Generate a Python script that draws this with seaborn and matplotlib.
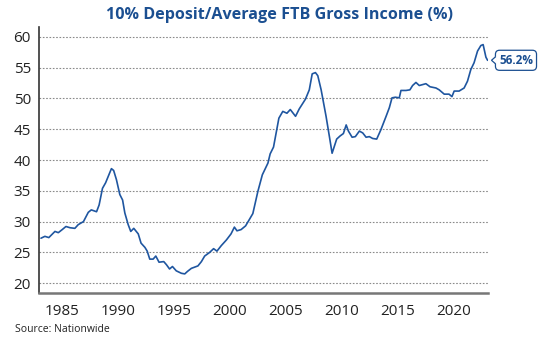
import matplotlib
matplotlib.use("Agg")
import matplotlib.pyplot as plt
import matplotlib.transforms as mtransforms
from matplotlib.patches import Polygon
import seaborn as sns
import pandas as pd

# Quarterly-ish readings (decimal year, %)
years = [1983.1, 1983.45, 1983.8, 1984.35, 1984.65, 1985.0, 1985.33, 1985.7, 1986.13, 1986.43,
         1986.9, 1987.33, 1987.6, 1988.07, 1988.3, 1988.6, 1988.88, 1989.4, 1989.6, 1989.85,
         1990.15, 1990.4, 1990.6, 1990.9, 1991.13, 1991.4, 1991.8, 1992.05, 1992.4, 1992.6,
         1992.83, 1993.13, 1993.37, 1993.66, 1994.08, 1994.32, 1994.6, 1994.86, 1995.2, 1995.66,
         1995.96, 1996.2, 1996.55, 1997.14, 1997.45, 1997.74, 1998.19, 1998.54, 1998.84, 1999.23,
         1999.68, 2000.1, 2000.4, 2000.63, 2001.0, 2001.4, 2001.76, 2002.05, 2002.5, 2002.9,
         2003.4, 2003.6, 2003.9, 2004.38, 2004.73, 2005.1, 2005.4, 2005.87, 2006.2, 2006.76,
         2007.1, 2007.36, 2007.65, 2007.86, 2008.16, 2008.6, 2008.9, 2009.14, 2009.55, 2009.85,
         2010.15, 2010.4, 2010.6, 2010.93, 2011.22, 2011.58, 2011.88, 2012.18, 2012.47, 2012.77,
         2013.13, 2013.5, 2013.97, 2014.26, 2014.5, 2014.8, 2015.15, 2015.3, 2015.75, 2016.1,
         2016.34, 2016.64, 2016.94, 2017.53, 2017.9, 2018.43, 2018.72, 2019.17, 2019.6, 2019.86,
         2020.06, 2020.5, 2020.95, 2021.25, 2021.55, 2021.84, 2022.15, 2022.45, 2022.65, 2022.9,
         2023.05]
values = [27.3, 27.6, 27.4, 28.4, 28.2, 28.7, 29.2, 29.0, 28.9, 29.5,
          30.0, 31.5, 31.9, 31.6, 32.7, 35.4, 36.3, 38.6, 38.3, 36.8,
          34.4, 33.5, 31.4, 29.5, 28.4, 28.9, 28.0, 26.5, 25.8, 25.2,
          23.9, 23.9, 24.4, 23.4, 23.5, 23.0, 22.3, 22.7, 22.0, 21.6,
          21.5, 21.9, 22.4, 22.8, 23.5, 24.4, 25.0, 25.6, 25.2, 26.1,
          27.0, 28.0, 29.1, 28.5, 28.7, 29.3, 30.4, 31.3, 34.9, 37.6,
          39.5, 41.0, 42.1, 46.8, 47.9, 47.6, 48.2, 47.1, 48.3, 49.9,
          51.4, 54.0, 54.2, 53.7, 51.4, 47.1, 43.8, 41.1, 43.4, 43.9,
          44.3, 45.7, 44.7, 43.7, 43.8, 44.7, 44.4, 43.7, 43.8, 43.5,
          43.4, 44.9, 47.1, 48.5, 50.1, 50.2, 50.1, 51.3, 51.3, 51.4,
          52.1, 52.6, 52.1, 52.4, 51.9, 51.7, 51.4, 50.7, 50.7, 50.3,
          51.2, 51.2, 51.7, 52.8, 54.7, 55.8, 57.7, 58.6, 58.75, 56.7,
          56.2]

x_ticks = [1985, 1990, 1995, 2000, 2005, 2010, 2015, 2020]
y_ticks = [20, 25, 30, 35, 40, 45, 50, 55, 60]
title = "10% Deposit/Average FTB Gross Income (%)"
source = "Source: Nationwide"

BLUE = "#1f56a0"
TITLE_BLUE = "#1b4f91"

sns.set_theme(style="white")
plt.rcParams['font.family'] = ['Open Sans', 'DejaVu Sans']

df = pd.DataFrame({"year": years, "value": values})

fig = plt.figure(figsize=(5.43, 3.49), dpi=100)
ax = fig.add_axes([0.0724, 0.1605, 0.8266, 0.762])

sns.lineplot(data=df, x="year", y="value", ax=ax, color=BLUE, linewidth=1.2)

ax.set_xlim(1982.95, 2023.1)
ax.set_ylim(18.4, 61.6)
ax.set_xticks(x_ticks)
ax.set_yticks(y_ticks)
ax.set_xlabel("")
ax.set_ylabel("")
ax.grid(axis="y", linestyle=(0, (1.5, 1.5)), color="#8a8a8a", linewidth=0.8)
ax.grid(axis="x", visible=False)

for side in ["top", "right"]:
    ax.spines[side].set_visible(False)
ax.spines["left"].set_color("#333333")
ax.spines["left"].set_linewidth(1.2)
ax.spines["bottom"].set_color("#777777")
ax.spines["bottom"].set_linewidth(1.8)

ax.tick_params(axis="both", which="major", direction="out", length=4, width=1,
               colors="#333333", labelsize=11, labelcolor="#222222", pad=2)
ax.tick_params(axis="x", pad=4, color="#555555")

fig.text(0.515, 0.956, title, ha="center", va="center", fontsize=11.6,
         fontweight="bold", color=TITLE_BLUE)
fig.text(0.028, 0.055, source, ha="left", va="center", fontsize=7.5, color="#222222")

last_x, last_y = years[-1], values[-1]
ax.annotate(f"{last_y:.1f}%", xy=(last_x, last_y), xytext=(8.2, 0), textcoords="offset points",
            ha="left", va="center", fontsize=8.5, fontweight="bold", color=TITLE_BLUE,
            bbox=dict(boxstyle="round,pad=0.3,rounding_size=0.35", fc="white", ec=TITLE_BLUE, lw=0.9),
            annotation_clip=False, zorder=5)

# small callout pointer on the left side of the label box
tr = mtransforms.offset_copy(ax.transData, fig=fig, x=0, y=0, units="points")
pts = [(5.8, 2.6), (2.8, 0.0), (5.8, -2.6)]
from matplotlib.transforms import ScaledTranslation
off = ScaledTranslation(0, 0, fig.dpi_scale_trans)
import numpy as np
base = ax.transData
poly_pts = [(p[0] / 72.0, p[1] / 72.0) for p in pts]
shift = mtransforms.ScaledTranslation(last_x, last_y, base)
tri_tr = fig.dpi_scale_trans + mtransforms.ScaledTranslation(0, 0, fig.dpi_scale_trans)
# build transform: points offset (in inches) then add data position
tri_tr = mtransforms.Affine2D() + fig.dpi_scale_trans
tri_tr = fig.dpi_scale_trans + mtransforms.Affine2D().translate(*base.transform((last_x, last_y)))
fill = Polygon(poly_pts + [(6.6 / 72.0, -2.6 / 72.0), (6.6 / 72.0, 2.6 / 72.0)], closed=True,
               fc="white", ec="none", transform=tri_tr, zorder=6, clip_on=False)
edge = Polygon(poly_pts, closed=False, fill=False, ec=TITLE_BLUE, lw=0.9,
               transform=tri_tr, zorder=7, clip_on=False)
ax.add_patch(fill)
ax.add_patch(edge)

fig.savefig("out.png", dpi=100)
